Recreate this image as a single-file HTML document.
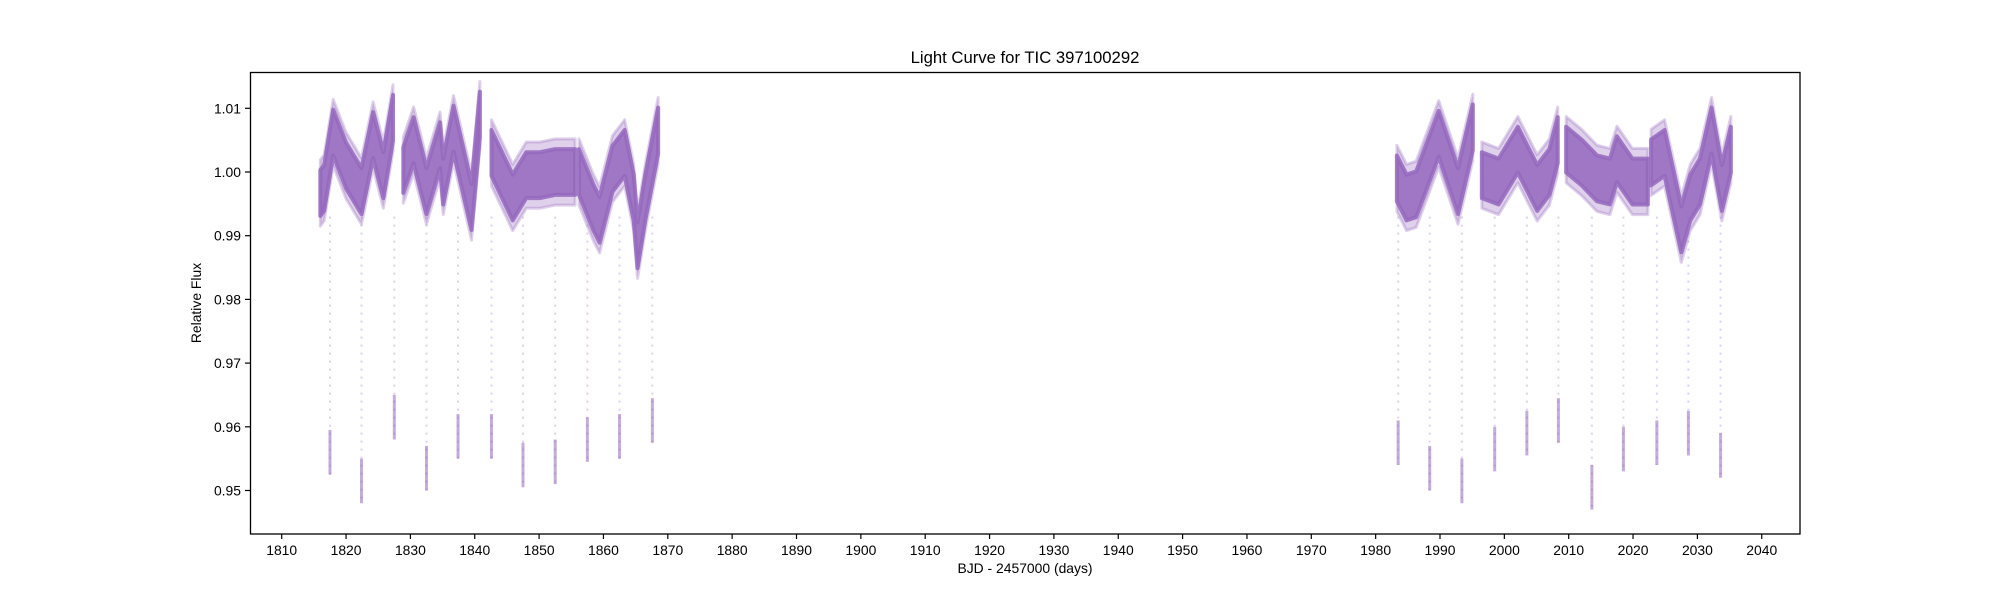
<!DOCTYPE html>
<html><head><meta charset="utf-8"><style>
body{margin:0;background:#fff}
svg{display:block;font-family:"Liberation Sans","DejaVu Sans",sans-serif}
</style></head><body>
<svg id="chart" width="2000" height="600" viewBox="0 0 2000 600">
<text x="1025" y="63" font-size="16.7" text-anchor="middle">Light Curve for TIC 397100292</text>
<g id="plot"></g>
<g id="xaxis"></g>
<g id="yaxis"></g>
<rect x="250.5" y="72.5" width="1549.5" height="461.5" fill="none" stroke="#000" stroke-width="1.3"/>
<text x="1025" y="573" font-size="13.9" text-anchor="middle">BJD - 2457000 (days)</text>
<text transform="translate(201,303) rotate(-90)" font-size="13.9" text-anchor="middle">Relative Flux</text>
</svg>
<script>
const xTicks=[1810,1820,1830,1840,1850,1860,1870,1880,1890,1900,1910,1920,1930,1940,1950,1960,1970,1980,1990,2000,2010,2020,2030,2040];
const yTicks=[0.95,0.96,0.97,0.98,0.99,1.00,1.01];
// baseline segments (time, flux), segments separated by data gaps
const seg1T=[1816.0,1816.6,1818.0,1820.0,1822.4,1824.2,1825.8,1827.3];
const seg1F=[0.9967,0.9975,1.0062,1.0010,0.9970,1.0058,0.9995,1.0085];
const seg2T=[1828.9,1830.5,1832.5,1834.6,1835.1,1836.7,1839.5,1840.8];
const seg2F=[1.0003,1.0050,0.9970,1.0042,0.9985,1.0068,0.9945,1.0090];
const seg3T=[1842.6,1845.9,1848.0,1850.1,1852.5,1855.6];
const seg3F=[1.0030,0.9960,0.9995,0.9995,1.0000,1.0000];
const seg4T=[1856.2,1858.4,1859.4,1861.4,1863.3,1864.7,1865.3,1866.5,1868.5];
const seg4F=[1.0000,0.9945,0.9925,1.0005,1.0030,0.9960,0.9885,0.9960,1.0065];
const seg5T=[1983.3,1984.8,1986.3,1989.8,1992.8,1995.1];
const seg5F=[0.9990,0.9960,0.9965,1.0060,0.9970,1.0070];
const seg6T=[1996.5,1999.1,2002.1,2005.1,2007.0,2008.3];
const seg6F=[0.9995,0.9985,1.0035,0.9975,1.0000,1.0050];
const seg7T=[2009.6,2012.0,2014.4,2016.4,2017.5,2019.9,2022.3];
const seg7F=[1.0035,1.0015,0.9990,0.9985,1.0020,0.9985,0.9985];
const seg8T=[2022.8,2024.9,2027.5,2028.9,2030.4,2032.2,2033.8,2035.2];
const seg8F=[1.0015,1.0030,0.9910,0.9960,0.9985,1.0065,0.9975,1.0035];
// eclipses: times and minimum flux
const eclT=[1817.5,1822.4,1827.5,1832.5,1837.4,1842.6,1847.5,1852.5,1857.5,1862.5,1867.6,1983.5,1988.4,1993.4,1998.5,2003.5,2008.4,2013.6,2018.5,2023.7,2028.6,2033.6];
const eclF=[0.9525,0.9480,0.9580,0.9500,0.9550,0.9550,0.9505,0.9510,0.9545,0.9550,0.9575,0.9540,0.9500,0.9480,0.9530,0.9555,0.9575,0.9470,0.9530,0.9540,0.9555,0.9520];

const NS='http://www.w3.org/2000/svg';
const X=t=>281.7+(t-1810)*6.435;
const Y=f=>172-(f-1.0)*6370;
function mk(tag,attrs,parent){const e=document.createElementNS(NS,tag);for(const k in attrs)e.setAttribute(k,attrs[k]);parent.appendChild(e);return e;}
const plot=document.getElementById('plot'),xa=document.getElementById('xaxis'),ya=document.getElementById('yaxis');
const col='#9467bd';
eclT.forEach((t,i)=>{
 const l=mk('line',{x1:X(t),x2:X(t),y1:Y(0.993),y2:Y(eclF[i]),stroke:col,'stroke-width':2,'stroke-opacity':0.3,'stroke-dasharray':'2 6'},plot);
 
 
 const c=mk('line',{x1:X(t),x2:X(t),y1:Y(eclF[i]+0.007),y2:Y(eclF[i]),stroke:col,'stroke-width':3,'stroke-opacity':0.55},plot);
 
 
});
function band(T,F,hw){
 const up=T.map((t,j)=>X(t)+','+Y(F[j]+hw));
 const lo=T.map((t,j)=>X(t)+','+Y(F[j]-hw)).reverse();
 return up.concat(lo).join(' ');
}
const segs=[[seg1T,seg1F],[seg2T,seg2F],[seg3T,seg3F],[seg4T,seg4F],[seg5T,seg5F],[seg6T,seg6F],[seg7T,seg7F],[seg8T,seg8F]];
segs.forEach((s,i)=>{
 const h=mk('polygon',{points:band(s[0],s[1],0.0052),fill:col,'fill-opacity':0.3,stroke:col,'stroke-opacity':0.3,'stroke-width':3,'stroke-linejoin':'round'},plot);
 
 
 const p=mk('polygon',{points:band(s[0],s[1],0.0036),fill:col,'fill-opacity':0.85,stroke:col,'stroke-width':4,'stroke-opacity':0.85,'stroke-linejoin':'round'},plot);
 
 
});
xTicks.forEach(v=>{
 const x=X(v);
 const tk=mk('line',{x1:x,x2:x,y1:534,y2:539,stroke:'#000','stroke-width':1.2},xa);
 
 
 const tx=mk('text',{x:x,y:555,'font-size':13.9,'text-anchor':'middle'},xa);
 tx.textContent=v;
 
 
});
yTicks.forEach(v=>{
 const y=Y(v);
 const tk=mk('line',{x1:245,x2:250.5,y1:y,y2:y,stroke:'#000','stroke-width':1.2},ya);
 
 
 const tx=mk('text',{x:241,y:y+5,'font-size':13.9,'text-anchor':'end'},ya);
 tx.textContent=v.toFixed(2);
 
 
});
</script>
</body></html>
